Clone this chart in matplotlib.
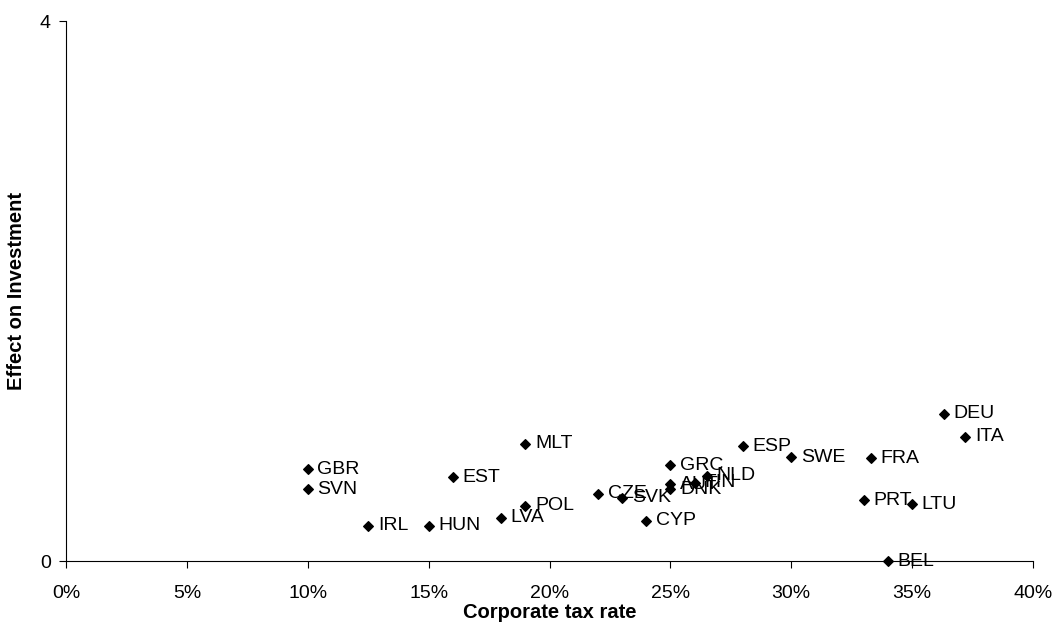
import matplotlib
matplotlib.use('Agg')
import matplotlib.pyplot as plt
from matplotlib.ticker import FuncFormatter

plt.rcParams.update({
    'font.family': ['Liberation Sans', 'DejaVu Sans'],
    'axes.spines.top': False,
    'axes.spines.right': False,
})

# Data
countries = ["GBR", "SVN", "IRL", "HUN", "EST", "LVA", "POL", "MLT", "CZE", "SVK",
             "CYP", "GRC", "AUT", "DNK", "FIN", "NLD", "ESP", "SWE", "FRA", "PRT",
             "LTU", "BEL", "DEU", "ITA"]
tax_rate = [10.0, 10.0, 12.5, 15.0, 16.0, 18.0, 19.0, 19.0, 22.0, 23.0,
            24.0, 25.0, 25.0, 25.0, 26.0, 26.5, 28.0, 30.0, 33.3, 33.0,
            35.0, 34.0, 36.3, 37.2]
effect = [0.68, 0.53, 0.26, 0.26, 0.62, 0.32, 0.41, 0.87, 0.50, 0.47,
          0.30, 0.71, 0.57, 0.53, 0.58, 0.63, 0.85, 0.77, 0.76, 0.45,
          0.42, 0.0, 1.09, 0.92]

fig = plt.figure(figsize=(10.53, 6.39), dpi=100)
ax = fig.add_axes([66/1053, 1 - 561/639, 967/1053, 540/639])

ax.scatter(tax_rate, effect, marker='D', s=24, color='black', zorder=3, clip_on=False)
for name, x, y in zip(countries, tax_rate, effect):
    ax.annotate(name, (x, y), xytext=(7, 0), textcoords='offset points',
                va='center', ha='left', fontsize=14)

ax.set_xlim(0, 40)
ax.set_ylim(0, 4)
ax.set_xticks(range(0, 41, 5))
ax.xaxis.set_major_formatter(FuncFormatter(lambda v, p: f"{v:.0f}%"))
ax.set_yticks([0, 4])
ax.tick_params(axis='both', labelsize=14, direction='out', length=5)
ax.tick_params(axis='x', pad=12)
ax.tick_params(axis='y', pad=6)

ax.set_xlabel("Corporate tax rate", fontsize=14.5, fontweight='bold')
ax.set_ylabel("Effect on Investment", fontsize=14.5, fontweight='bold')
ax.xaxis.set_label_coords(0.5, (561 - 603) / 540)
ax.yaxis.set_label_coords((26 - 66) / 967, 0.5)

plt.savefig("out.png", dpi=100)
plt.close()
